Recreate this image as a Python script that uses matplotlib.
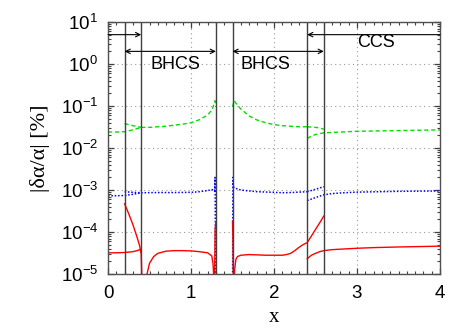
import matplotlib
matplotlib.use("Agg")
import matplotlib.pyplot as plt
from matplotlib.ticker import LogLocator, MultipleLocator, NullFormatter

plt.rcParams['font.family'] = ['Liberation Sans', 'DejaVu Sans']
plt.rcParams['mathtext.fontset'] = 'custom'
plt.rcParams['mathtext.rm'] = 'Liberation Sans'
plt.rcParams['mathtext.it'] = 'Liberation Sans:italic'
plt.rcParams['mathtext.bf'] = 'Liberation Sans:bold'

# ---- data ----
# green (dashed)
g1_x = [0.0, 0.1, 0.2, 0.3, 0.4]
g1_y = [0.024, 0.024, 0.0245, 0.027, 0.031]
g2_x = [0.2, 0.3, 0.4]
g2_y = [0.038, 0.034, 0.031]
g3_x = [0.4, 0.5, 0.6, 0.7, 0.8, 0.9, 1.0, 1.1, 1.2, 1.25, 1.27, 1.29, 1.3]
g3_y = [0.031, 0.031, 0.032, 0.033, 0.035, 0.037, 0.040, 0.047, 0.061, 0.080, 0.100, 0.134, 0.095]
g4_x = [1.5, 1.52, 1.55, 1.6, 1.7, 1.8, 1.9, 2.0, 2.1, 2.2, 2.3, 2.4]
g4_y = [0.095, 0.134, 0.11, 0.085, 0.058, 0.046, 0.040, 0.036, 0.034, 0.033, 0.032, 0.032]
g5_x = [2.4, 2.5, 2.55, 2.6]
g5_y = [0.032, 0.031, 0.030, 0.028]
g6_x = [2.4, 2.45, 2.5, 2.6, 2.8, 3.0, 3.5, 4.0]
g6_y = [0.017, 0.019, 0.021, 0.023, 0.024, 0.025, 0.026, 0.027]

# blue (dotted)
b1_x = [0.0, 0.1, 0.2, 0.3, 0.4]
b1_y = [7.3e-4, 7.3e-4, 7.4e-4, 7.9e-4, 8.6e-4]
b2_x = [0.2, 0.3, 0.4]
b2_y = [9.1e-4, 8.8e-4, 8.6e-4]
b3_x = [0.4, 0.6, 0.8, 1.0, 1.1, 1.2, 1.25, 1.27, 1.285, 1.29, 1.3]
b3_y = [8.6e-4, 8.7e-4, 8.7e-4, 8.8e-4, 9.1e-4, 9.7e-4, 1.02e-3, 1.0e-3, 9.5e-4, 2.0e-3, 1e-6]
b4_x = [1.5, 1.505, 1.51, 1.53, 1.57, 1.6, 1.7, 1.8, 2.0, 2.1, 2.2, 2.3, 2.4]
b4_y = [1e-6, 2.0e-3, 1.2e-3, 1.1e-3, 1.05e-3, 1.0e-3, 9.5e-4, 9.1e-4, 8.8e-4, 8.6e-4, 8.7e-4, 8.9e-4, 9.1e-4]
b5_x = [2.4, 2.5, 2.6]
b5_y = [9.1e-4, 1.04e-3, 1.2e-3]
b6_x = [2.4, 2.5, 2.6, 2.7, 2.8, 3.0, 3.5, 4.0]
b6_y = [5.6e-4, 6.6e-4, 7.7e-4, 8.2e-4, 8.5e-4, 8.9e-4, 9.3e-4, 9.5e-4]

# red (solid)
r1_x = [0.0, 0.1, 0.2, 0.3, 0.35, 0.4]
r1_y = [3.2e-5, 3.2e-5, 3.25e-5, 3.4e-5, 3.6e-5, 3.9e-5]
r2_x = [0.2, 0.25, 0.3, 0.35, 0.38, 0.4, 0.42]
r2_y = [4.7e-4, 2.7e-4, 1.5e-4, 7.5e-5, 4.8e-5, 3.0e-5, 1e-6]
r3_x = [0.45, 0.47, 0.5, 0.55, 0.6, 0.7, 0.8, 0.9, 1.0, 1.1, 1.2, 1.25, 1.265, 1.275, 1.28, 1.29, 1.3]
r3_y = [1e-6, 1.0e-5, 1.8e-5, 2.6e-5, 3.1e-5, 3.5e-5, 3.6e-5, 3.6e-5, 3.55e-5, 3.4e-5, 3.2e-5, 2.7e-5, 1.8e-5, 8e-6, 1e-6, 1.1e-4, 1.77e-4]
r4_x = [1.5, 1.505, 1.515, 1.525, 1.54, 1.56, 1.6, 1.7, 1.8, 1.9, 2.0, 2.1, 2.15, 2.2, 2.25, 2.3, 2.35, 2.4, 2.45, 2.5, 2.55, 2.6]
r4_y = [1.8e-4, 7e-5, 1e-6, 1.2e-5, 2.2e-5, 2.6e-5, 2.8e-5, 2.9e-5, 2.85e-5, 2.8e-5, 2.8e-5, 2.8e-5, 2.9e-5, 3.1e-5, 3.6e-5, 4.3e-5, 5.0e-5, 5.6e-5, 8e-5, 1.15e-4, 1.65e-4, 2.4e-4]
r5_x = [2.4, 2.45, 2.5, 2.55, 2.6, 2.7, 2.8, 3.0, 3.2, 3.5, 4.0]
r5_y = [2.3e-5, 2.8e-5, 3.1e-5, 3.4e-5, 3.6e-5, 3.8e-5, 3.9e-5, 4.1e-5, 4.25e-5, 4.4e-5, 4.6e-5]

green_segments = [(g1_x, g1_y), (g2_x, g2_y), (g3_x, g3_y), (g4_x, g4_y), (g5_x, g5_y), (g6_x, g6_y)]
blue_segments = [(b1_x, b1_y), (b2_x, b2_y), (b3_x, b3_y), (b4_x, b4_y), (b5_x, b5_y), (b6_x, b6_y)]
red_segments = [(r1_x, r1_y), (r2_x, r2_y), (r3_x, r3_y), (r4_x, r4_y), (r5_x, r5_y)]

boundaries = [0.2, 0.4, 1.3, 1.5, 2.4, 2.6]
region_labels = ["BHCS", "BHCS", "CCS"]

# ---- figure ----
fig = plt.figure(figsize=(4.71, 3.30), dpi=100)
ax = fig.add_axes([0.2293, 0.1697, 0.9342 - 0.2293, 0.9333 - 0.1697])
ax.set_yscale('log')
ax.set_xlim(0, 4)
ax.set_ylim(1e-5, 10)

ax.grid(True, which='major', linestyle=(0, (1, 3)), color='#999999', linewidth=0.8)

for xs, ys in green_segments:
    ax.plot(xs, ys, color='#00e000', linestyle=(0, (3, 2)), linewidth=1.0)
for xs, ys in blue_segments:
    ax.plot(xs, ys, color='#0000ff', linestyle=(0, (1, 1.2)), linewidth=1.1)
for xs, ys in red_segments:
    ax.plot(xs, ys, color='#ff0000', linestyle='-', linewidth=1.0)

for b in boundaries:
    ax.axvline(b, color='#404040', linewidth=1.0)

arr = dict(color='black', linewidth=0.8, shrinkA=0, shrinkB=0, mutation_scale=8)
ax.annotate('', xy=(0.4, 5), xytext=(0.0, 5), arrowprops=dict(arrowstyle='->', **arr))
ax.annotate('', xy=(1.3, 2), xytext=(0.2, 2), arrowprops=dict(arrowstyle='<->', **arr))
ax.annotate('', xy=(2.6, 2), xytext=(1.5, 2), arrowprops=dict(arrowstyle='<->', **arr))
ax.annotate('', xy=(4.0, 5), xytext=(2.4, 5), arrowprops=dict(arrowstyle='<-', **arr))

ax.text(0.81, 0.95, region_labels[0], ha='center', va='center', fontsize=13)
ax.text(1.90, 0.95, region_labels[1], ha='center', va='center', fontsize=13)
ax.text(3.23, 3.2, region_labels[2], ha='center', va='center', fontsize=13)

ax.xaxis.set_major_locator(MultipleLocator(1))
ax.xaxis.set_minor_locator(MultipleLocator(0.1))
ax.yaxis.set_major_locator(LogLocator(base=10, numticks=20))
ax.yaxis.set_minor_locator(LogLocator(base=10, subs=range(2, 10), numticks=20))
ax.yaxis.set_minor_formatter(NullFormatter())

ax.tick_params(which='both', direction='in', top=True, right=True, labelsize=13.5, colors='#404040', labelcolor='black')
ax.tick_params(which='major', length=4.5, width=0.9)
ax.tick_params(axis='x', which='major', pad=8)
ax.tick_params(axis='y', which='major', pad=7)
ax.tick_params(which='minor', length=2.5, width=0.8)
for s in ax.spines.values():
    s.set_color('#505050')
    s.set_linewidth(1.0)

ax.set_xlabel('x', fontsize=15, family=['Liberation Serif', 'DejaVu Serif'], labelpad=4)
ax.set_ylabel('|δα/α| [%]', fontsize=16, family=['Liberation Serif', 'DejaVu Serif'], labelpad=8)

fig.savefig('out.png', dpi=100)
